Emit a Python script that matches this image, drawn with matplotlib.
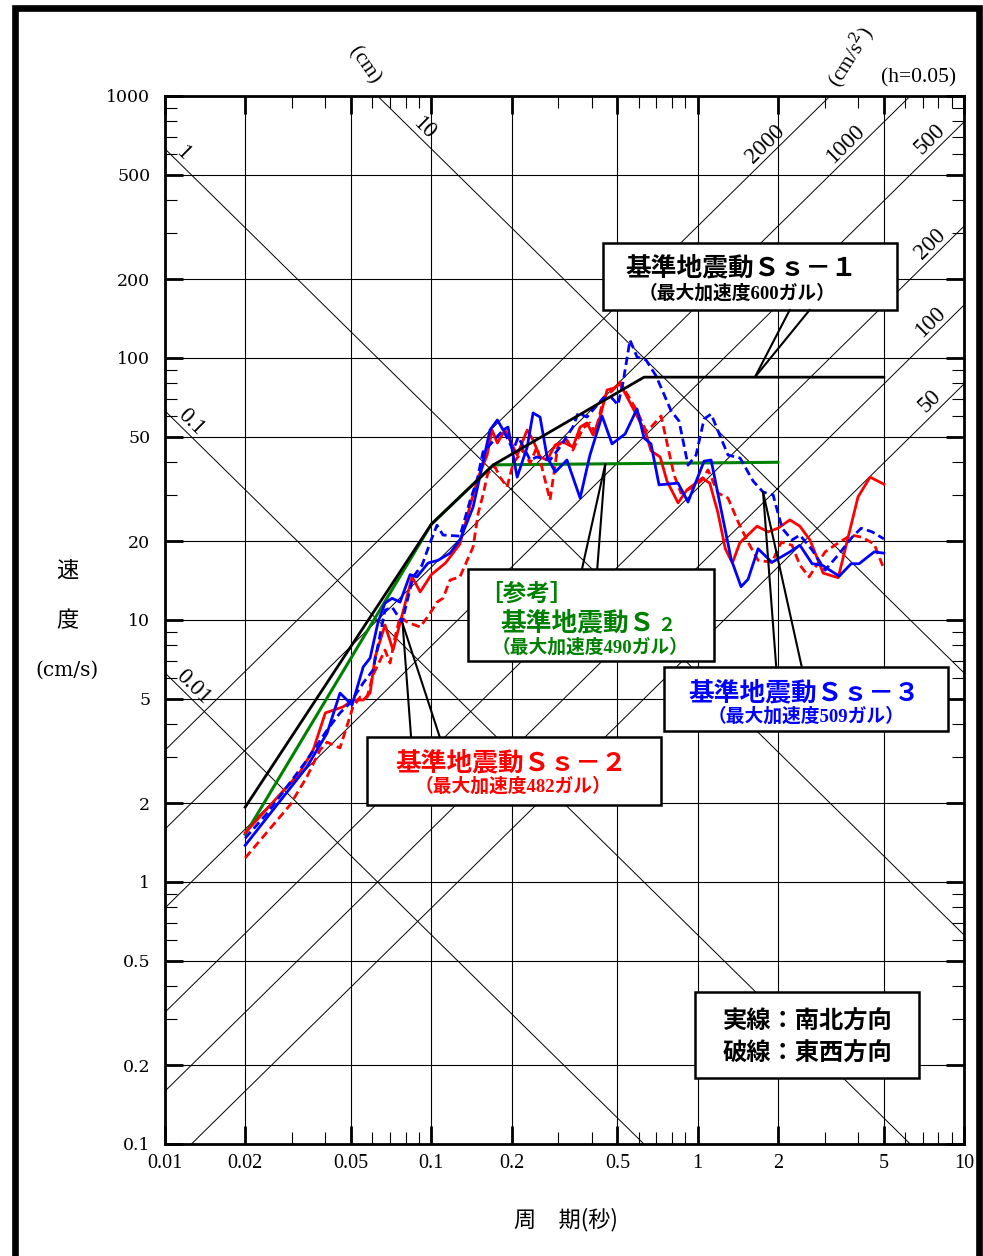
import numpy as np
import matplotlib.pyplot as plt
from matplotlib.patches import Rectangle
from matplotlib.ticker import LogLocator, NullFormatter

JP = ['Noto Sans CJK JP', 'DejaVu Sans']
JP_SERIF_NUM = ['Liberation Serif', 'Noto Sans CJK JP']

# axis ticks
x_ticks = [0.01, 0.02, 0.05, 0.1, 0.2, 0.5, 1, 2, 5, 10]
x_labels = ['0.01', '0.02', '0.05', '0.1', '0.2', '0.5', '1', '2', '5', '10']
y_ticks = [0.1, 0.2, 0.5, 1, 2, 5, 10, 20, 50, 100, 200, 500, 1000]
y_labels = ['0.1', '0.2', '0.5', '1', '2', '5', '10', '20', '50', '100', '200', '500', '1000']

# tripartite guide lines
disp_lines = [0.01, 0.1, 1, 10]             # cm
acc_lines = [50, 100, 200, 500, 1000, 2000]  # cm/s2

# design spectra
ss1_T = [0.02, 0.1, 0.171, 0.629, 5.0]
ss1_V = [1.93, 23.2, 39.1, 84.5, 84.5]
s2_T = [0.02, 0.1, 0.171, 2.0]
s2_V = [1.52, 23.2, 39.1, 40.0]

# Ss-2 (red) NS / EW
ss2_ns_T = [0.020, 0.032, 0.036, 0.040, 0.0466, 0.0508, 0.0555, 0.0589, 0.0615, 0.067,
            0.0718, 0.0776, 0.0847, 0.0908, 0.100, 0.113, 0.128, 0.140, 0.150, 0.162,
            0.169, 0.177, 0.189, 0.210, 0.229, 0.241, 0.256, 0.272, 0.292, 0.312,
            0.340, 0.362, 0.384, 0.405, 0.430, 0.457, 0.485, 0.511, 0.543, 0.592,
            0.640, 0.668, 0.723, 0.767, 0.844, 0.912, 1.04, 1.11, 1.19, 1.27,
            1.35, 1.44, 1.67, 1.84, 2.00, 2.22, 2.42, 2.64, 2.96, 3.37,
            4.00, 4.44, 5.0]
ss2_ns_V = [1.54, 2.61, 3.19, 4.42, 4.66, 4.95, 4.95, 5.26, 7.22, 9.57,
            7.68, 10.4, 14.6, 12.8, 14.9, 16.5, 19.5, 27.5, 35.1, 42.6,
            53.1, 47.4, 53.1, 42.6, 53.1, 48.6, 41.9, 40.8, 46.6, 47.8,
            45.7, 54.5, 56.5, 50.8, 59.5, 75.5, 76.8, 79.6, 71.0, 60.1,
            51.3, 44.2, 41.9, 33.9, 28.0, 31.4, 34.8, 33.3, 25.8, 18.7,
            16.5, 19.7, 22.8, 21.7, 22.4, 24.1, 22.8, 20.2, 15.1, 14.5,
            29.5, 35.1, 33.0]
ss2_ew_T = [0.020, 0.0295, 0.0341, 0.0382, 0.0406, 0.0454, 0.0508, 0.054, 0.0574, 0.0604,
            0.067, 0.070, 0.0731, 0.0763, 0.0811, 0.0908, 0.0989, 0.105, 0.1106, 0.1175,
            0.128, 0.1435, 0.150, 0.1563, 0.163, 0.1735, 0.181, 0.1925, 0.203, 0.221,
            0.235, 0.249, 0.279, 0.299, 0.323, 0.340, 0.371, 0.394, 0.412, 0.445,
            0.477, 0.511, 0.543, 0.592, 0.640, 0.674, 0.729, 0.815, 0.866, 0.944,
            1.030, 1.094, 1.193, 1.30, 1.418, 1.546, 1.686, 1.90, 2.06, 2.26,
            2.42, 2.62, 3.01, 3.40, 3.77, 4.14, 4.60, 5.0]
ss2_ew_V = [1.235, 1.97, 2.52, 3.19, 3.42, 3.25, 4.66, 5.08, 5.08, 6.17,
            7.68, 6.85, 8.61, 10.3, 9.82, 9.40, 10.6, 11.7, 12.1, 14.2,
            14.6, 19.0, 25.6, 30.0, 36.4, 38.4, 35.1, 32.2, 39.7, 44.5,
            39.7, 45.7, 28.7, 46.6, 48.6, 44.5, 54.0, 56.5, 51.7, 71.0,
            74.8, 81.0, 72.9, 62.8, 52.6, 55.0, 60.1, 35.8, 30.5, 31.9,
            33.9, 37.4, 30.5, 29.2, 23.7, 19.8, 16.9, 16.6, 19.8, 19.3,
            16.2, 14.6, 18.2, 19.8, 21.1, 20.7, 19.5, 15.7]

# Ss-3 (blue) NS / EW
ss3_ns_T = [0.020, 0.0295, 0.0341, 0.0406, 0.0454, 0.0504, 0.0555, 0.0589, 0.0631, 0.067,
            0.0712, 0.0763, 0.0832, 0.0883, 0.0972, 0.106, 0.1175, 0.128, 0.136, 0.1435,
            0.152, 0.166, 0.177, 0.186, 0.194, 0.210, 0.229, 0.241, 0.256, 0.272,
            0.292, 0.323, 0.362, 0.394, 0.4375, 0.477, 0.534, 0.592, 0.629, 0.668,
            0.716, 0.844, 0.920, 1.057, 1.123, 1.335, 1.455, 1.546, 1.686, 1.90,
            2.22, 2.42, 2.69, 2.93, 3.40, 3.77, 4.04, 4.60, 5.0]
ss3_ns_V = [1.38, 2.28, 2.75, 3.70, 5.26, 4.74, 6.62, 7.16, 9.82, 11.6,
            12.1, 11.7, 14.9, 14.6, 16.5, 16.9, 18.0, 20.2, 23.5, 27.0,
            35.1, 53.1, 58.0, 53.1, 54.5, 35.1, 45.7, 61.7, 59.5, 41.9,
            36.7, 40.8, 29.2, 42.6, 60.1, 47.0, 51.3, 63.9, 49.5, 47.0,
            32.8, 33.3, 28.2, 40.4, 40.8, 17.1, 13.4, 14.3, 18.7, 16.6,
            18.2, 19.3, 16.4, 16.2, 14.7, 16.4, 16.4, 18.2, 18.0]
ss3_ew_T = [0.020, 0.0242, 0.0341, 0.0406, 0.0454, 0.0495, 0.0555, 0.0604, 0.067, 0.0712,
            0.0776, 0.0854, 0.0923, 0.0989, 0.105, 0.1106, 0.128, 0.140, 0.1485, 0.1563,
            0.163, 0.186, 0.203, 0.212, 0.235, 0.249, 0.279, 0.304, 0.340, 0.356,
            0.384, 0.4415, 0.477, 0.502, 0.525, 0.557, 0.592, 0.640, 0.698, 0.795,
            0.851, 0.920, 0.986, 1.057, 1.123, 1.193, 1.30, 1.443, 1.615, 1.76,
            1.92, 2.075, 2.26, 2.42, 2.69, 3.01, 3.40, 3.80, 4.11, 4.52, 5.0]
ss3_ew_V = [1.47, 1.83, 2.92, 3.80, 4.42, 4.82, 5.75, 6.44, 10.9, 11.2,
            9.82, 14.6, 16.2, 19.7, 23.0, 21.1, 20.9, 28.7, 34.2, 43.8,
            45.7, 53.1, 44.5, 49.9, 40.8, 41.9, 40.8, 45.7, 54.5, 61.7,
            59.5, 70.3, 70.3, 66.2, 81.0, 117, 101, 98.2, 85.4, 62.8,
            57.5, 39.0, 42.6, 58.5, 61.1, 52.6, 42.6, 41.5, 33.9, 30.8,
            30.0, 22.4, 20.2, 21.1, 18.5, 15.5, 17.9, 20.7, 22.4, 21.7, 20.4]

plt.rcParams['mathtext.fontset'] = 'dejavuserif'

W, H = 983, 1256
fig = plt.figure(figsize=(W / 100, H / 100), dpi=100)
ax = fig.add_axes([165 / W, 112 / H, 799 / W, 1048 / H])
ax.set_xscale('log')
ax.set_yscale('log')
ax.set_xlim(0.01, 10)
ax.set_ylim(0.1, 1000)

# grid + ticks
ax.set_xticks(x_ticks)
ax.set_xticklabels(x_labels, fontfamily='Liberation Serif', fontsize=14.5)
ax.set_yticks(y_ticks)
ax.set_yticklabels(y_labels, fontfamily='DejaVu Serif', fontsize=12.5)
for axis in (ax.xaxis, ax.yaxis):
    axis.set_minor_locator(LogLocator(base=10, subs=(3, 4, 6, 7, 8, 9)))
    axis.set_minor_formatter(NullFormatter())
ax.grid(which='major', color='black', lw=0.8, zorder=0)
ax.tick_params(which='both', direction='in', top=True, right=True)
ax.tick_params(which='major', length=13, width=2)
ax.tick_params(which='minor', length=8.5, width=0.8)
ax.tick_params(axis='x', pad=7)
ax.tick_params(axis='y', pad=10.5)
for sp in ax.spines.values():
    sp.set_linewidth(2.0)

# displacement / acceleration lines
T_line = np.array([0.005, 20.0])
for d in disp_lines:
    ax.plot(T_line, 2 * np.pi * d / T_line, color='black', lw=0.7, zorder=1)
for a in acc_lines:
    ax.plot(T_line, a * T_line / (2 * np.pi), color='black', lw=0.7, zorder=1)

disp_lab_T = {1: 0.0117, 10: 0.094, 0.1: 0.0125, 0.01: 0.0128}
for d, t in disp_lab_T.items():
    ax.text(t, 2 * np.pi * d / t * 1.13, f'{d:g}', rotation=-44.5, ha='center', va='center',
            fontfamily='Liberation Serif', fontsize=16.5, zorder=2)
acc_lab_T = {2000: 1.79, 1000: 3.58, 500: 7.46, 200: 7.46, 100: 7.46, 50: 7.46}
for a, t in acc_lab_T.items():
    ax.text(t, a * t / (2 * np.pi) * 1.15, f'{a}', rotation=44.5, ha='center', va='center',
            fontfamily='Liberation Serif', fontsize=16.5, zorder=2)

# spectra
dash = (0, (3, 1.6))
ax.plot(s2_T, s2_V, color='#008000', lw=2.2, zorder=3)
ax.plot(ss1_T, ss1_V, color='black', lw=2.0, zorder=3.1)
ax.plot(ss2_ns_T, ss2_ns_V, color='red', lw=2.0, zorder=3)
ax.plot(ss2_ew_T, ss2_ew_V, color='red', lw=2.0, ls=dash, zorder=3)
ax.plot(ss3_ns_T, ss3_ns_V, color='blue', lw=2.0, zorder=3)
ax.plot(ss3_ew_T, ss3_ew_V, color='blue', lw=2.0, ls=dash, zorder=3)


def box(x0, y0, x1, y1):
    ax.add_patch(Rectangle((x0, y0), x1 - x0, y1 - y0, transform=ax.transAxes,
                           facecolor='white', edgecolor='black', lw=1.8, zorder=5))


def pointer(tip, bases):
    for b in bases:
        ax.annotate('', xy=tip, xycoords='data', xytext=b, textcoords='axes fraction',
                    arrowprops=dict(arrowstyle='-', color='black', lw=1.5,
                                    shrinkA=0, shrinkB=0), zorder=6)


big = dict(transform=ax.transAxes, ha='center', va='center', fontfamily=JP,
           fontsize=18.5, fontweight='bold', zorder=7)
small = dict(transform=ax.transAxes, ha='center', va='center', fontfamily=JP_SERIF_NUM,
             fontsize=13.5, fontweight='bold', zorder=7)

# Ss-1
box(0.548, 0.796, 0.916, 0.860)
pointer((1.64, 84.5), [(0.782, 0.796), (0.807, 0.796)])
ax.text(0.721, 0.836, '基準地震動Ｓｓ－１', **big)
ax.text(0.716, 0.812, '（最大加速度600ガル）', **small)

# reference S2
green = '#008000'
box(0.379, 0.461, 0.687, 0.549)
pointer((0.45, 39.4), [(0.522, 0.549), (0.541, 0.549)])
ax.text(0.452, 0.525, '［参考］', color=green, **{**big, 'fontsize': 17})
t2 = ax.text(0.4193, 0.497, '基準地震動Ｓ', color=green, **{**big, 'ha': 'left'})
ax.annotate('２', xy=(1.0, 0.05), xycoords=t2, xytext=(2, 0), textcoords='offset points',
            ha='left', va='bottom', fontfamily=JP, fontsize=13, fontweight='bold',
            color=green, zorder=7)
ax.text(0.532, 0.474, '（最大加速度490ガル）', color=green, **small)

# Ss-3
box(0.6245, 0.394, 0.980, 0.455)
pointer((1.76, 30.8), [(0.765, 0.455), (0.797, 0.455)])
ax.text(0.800, 0.430, '基準地震動Ｓｓ－３', color='blue', **big)
ax.text(0.802, 0.408, '（最大加速度509ガル）', color='blue', **small)

# Ss-2
box(0.253, 0.3235, 0.621, 0.388)
pointer((0.078, 9.7), [(0.308, 0.388), (0.344, 0.388)])
ax.text(0.434, 0.364, '基準地震動Ｓｓ－２', color='red', **big)
ax.text(0.4355, 0.341, '（最大加速度482ガル）', color='red', **small)

# line style legend
box(0.663, 0.063, 0.944, 0.145)
ax.text(0.804, 0.117, '実線：南北方向', **{**big, 'fontsize': 17.5})
ax.text(0.804, 0.086, '破線：東西方向', **{**big, 'fontsize': 17.5})

# outer labels
fig.text(0.371, 0.948, '(cm)', rotation=-55, ha='center', va='center',
         fontfamily='Liberation Serif', fontsize=15.5)
fig.text(0.865, 0.955, '(cm/s$^2$)', rotation=58, ha='center', va='center',
         fontfamily='Liberation Serif', fontsize=15.5)
fig.text(0.934, 0.938, '(h=0.05)', ha='center', va='center',
         fontfamily='Liberation Serif', fontsize=15.5)
fig.text(0.0682, 0.546, '速', ha='center', va='center', fontfamily=JP, fontsize=16)
fig.text(0.0682, 0.506, '度', ha='center', va='center', fontfamily=JP, fontsize=16)
fig.text(0.0682, 0.4666, '(cm/s)', ha='center', va='center', fontfamily='DejaVu Serif', fontsize=14.5)
fig.text(0.5753, 0.0287, '周　期(秒)', ha='center', va='center', fontfamily=JP, fontsize=16)

# outer frame
fig.add_artist(Rectangle((15 / W, -0.05), (979 - 15) / W, 1.05 - 8 / H,
                         transform=fig.transFigure, fill=False, edgecolor='black',
                         lw=4.8, clip_on=False))

fig.savefig('out.png', dpi=100)
